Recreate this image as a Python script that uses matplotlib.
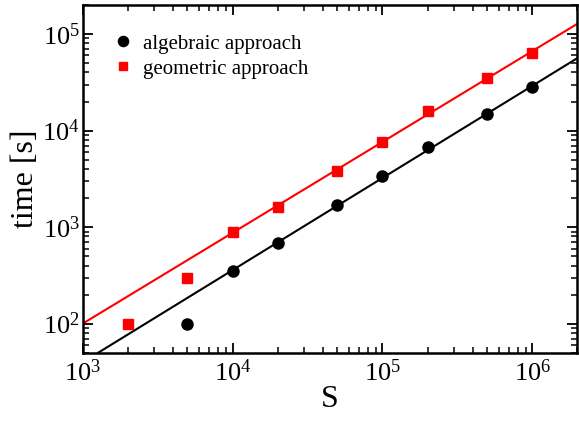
import numpy as np
import matplotlib
matplotlib.use('Agg')
import matplotlib.pyplot as plt
from matplotlib.lines import Line2D

# timing data
S_alg = [5e3, 1e4, 2e4, 5e4, 1e5, 2e5, 5e5, 1e6]
t_alg = [100, 350, 680, 1700, 3400, 6700, 15000, 28000]

S_geo = [2e3, 5e3, 1e4, 2e4, 5e4, 1e5, 2e5, 5e5, 1e6]
t_geo = [100, 300, 880, 1600, 3800, 7700, 16000, 35000, 63000]

# power law fits (end points of straight lines in log-log)
fit_alg_S = [1270, 2e6]
fit_alg_t = [50, 5.64e4]
fit_geo_S = [1e3, 2e6]
fit_geo_t = [100, 1.28e5]

plt.rcParams['font.family'] = ['Liberation Serif', 'DejaVu Serif']
plt.rcParams['mathtext.fontset'] = 'custom'
plt.rcParams['mathtext.rm'] = 'Liberation Serif'

fig = plt.figure(figsize=(5.79, 4.23), dpi=100)
ax = fig.add_axes([0.1428, 0.1662, 0.8546, 0.822])

ax.plot(fit_geo_S, fit_geo_t, c='red', lw=1.5)
ax.plot(fit_alg_S, fit_alg_t, c='black', lw=1.5)
ax.plot(S_alg, t_alg, 'o', c='black', ms=8)
ax.plot(S_geo, t_geo, 's', c='red', ms=7)

ax.set_xscale('log')
ax.set_yscale('log')
ax.set_xlim(1e3, 2e6)
ax.set_ylim(50, 2e5)

ax.set_xlabel('S', fontsize=23, labelpad=-1)
ax.set_ylabel('time [s]', fontsize=23, labelpad=2)

ax.tick_params(which='both', direction='in', top=True, right=True, labelsize=19)
ax.tick_params(which='major', length=7, width=1.3)
ax.tick_params(which='minor', length=4, width=1.1)
ax.tick_params(axis='x', which='major', pad=5)
ax.tick_params(axis='y', which='major', pad=2)
for sp in ax.spines.values():
    sp.set_linewidth(1.8)

# legend markers are a bit smaller than the plotted ones
handles = [Line2D([], [], ls='none', marker='o', c='black', ms=7.3),
           Line2D([], [], ls='none', marker='s', c='red', ms=5.3)]
ax.legend(handles, ['algebraic approach', 'geometric approach'],
          loc='upper left', bbox_to_anchor=(0.022, 0.97), frameon=False,
          numpoints=1, handlelength=1.0, handletextpad=0.45, labelspacing=0.25,
          fontsize=15)

fig.savefig('out.png', dpi=100)
